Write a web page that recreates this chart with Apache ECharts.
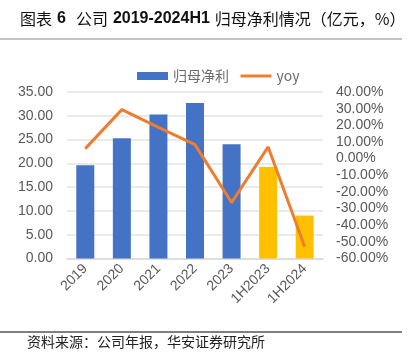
<!DOCTYPE html>
<html><head><meta charset="utf-8">
<script src="https://cdn.jsdelivr.net/npm/echarts@6/dist/echarts.min.js"></script>
<style>html,body{margin:0;padding:0;background:#fff}#c{width:417px;height:359px}</style>
</head><body><div id="c"></div>
<script>
const categories = ['2019','2020','2021','2022','2023','1H2023','1H2024'];
const profit = [19.6, 25.3, 30.25, 32.7, 24.0, 19.25, 9.03];
const yoy = [6.0, 29.4, 18.8, 8.4, -26.4, 7.0, -53.0];
const leftTicks = {min:0, max:35, interval:5};
const rightTicks = {min:-60, max:40, interval:10};
const halfYear = ['1H2023','1H2024'];

const chart = echarts.init(document.getElementById('c'));
const lab = {color:'#595959', fontSize:14, fontFamily:'Liberation Sans, Arial, sans-serif'};
chart.setOption({
  animation:false,
  title:{text:'{c|图表} {b|6}  {c|公司} {b|2019-2024H1} {c|归母净利情况（亿元，%）}', left:15, top:5,
    textStyle:{rich:{
      c:{fontSize:16, fontWeight:'normal', color:'#111', fontFamily:'Noto Sans CJK SC, sans-serif'},
      b:{fontSize:16, fontWeight:'bold', color:'#111', fontFamily:'Liberation Sans, Arial, sans-serif'}
    }}},
  graphic:[
    {type:'line', shape:{x1:0,y1:39,x2:402,y2:39}, style:{stroke:'#888', lineWidth:1}},
    {type:'line', shape:{x1:0,y1:332,x2:402,y2:332}, style:{stroke:'#000', lineWidth:1}},
    {type:'text', left:27, top:335, style:{text:'资料来源：公司年报，华安证券研究所', fontSize:14, fill:'#222', fontFamily:'Noto Sans CJK SC, sans-serif'}}
  ],
  legend:{left:132, top:64, itemWidth:31, itemHeight:8, itemGap:10,
    textStyle:{color:'#6b6b6b', fontSize:14, fontFamily:'Noto Sans CJK SC, sans-serif'},
    data:[{name:'归母净利', icon:'rect'}, {name:'yoy', itemStyle:{opacity:0}, lineStyle:{width:3, color:'#ED7D31'}}]},
  grid:{left:67, right:94, top:92, bottom:100.5, containLabel:false},
  xAxis:{type:'category', data:categories,
    axisLine:{lineStyle:{color:'#d9d9d9', width:1.5}}, axisTick:{show:false},
    axisLabel:Object.assign({rotate:45, margin:8, interval:0}, lab)},
  yAxis:[
    {type:'value', min:leftTicks.min, max:leftTicks.max, interval:leftTicks.interval,
     axisLabel:Object.assign({margin:14, formatter:v=>v.toFixed(2)}, lab),
     splitLine:{lineStyle:{color:'#e3e3e3', width:1.5}}, axisLine:{show:false}, axisTick:{show:false}},
    {type:'value', min:rightTicks.min, max:rightTicks.max, interval:rightTicks.interval,
     axisLabel:Object.assign({margin:13, formatter:v=>v.toFixed(2)+'%'}, lab),
     splitLine:{show:false}, axisLine:{show:false}, axisTick:{show:false}}
  ],
  series:[
    {name:'归母净利', type:'bar', barWidth:18, itemStyle:{color:'#4472C4'},
     data:profit.map((v,i)=>halfYear.includes(categories[i])?{value:v,itemStyle:{color:'#FFC000'}}:v)},
    {name:'yoy', type:'line', yAxisIndex:1, data:yoy, symbol:'none',
     lineStyle:{color:'#ED7D31', width:3}, itemStyle:{color:'#ED7D31'}}
  ]
});
</script></body></html>
